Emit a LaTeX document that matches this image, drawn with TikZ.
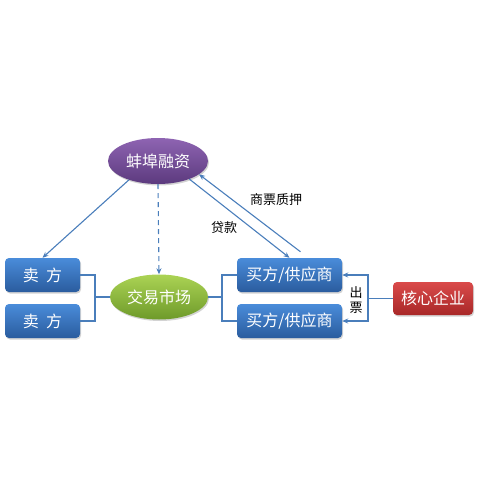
\documentclass[tikz,border=0pt]{standalone}
\usepackage{fontspec}
\setmainfont{Noto Sans CJK SC}
\usetikzlibrary{arrows.meta,shapes.geometric,shadows,calc}
\definecolor{lineblue}{HTML}{4A7EBB}
\definecolor{bluetop}{HTML}{4A8CDA}
\definecolor{bluebot}{HTML}{2A5C9E}
\definecolor{purtop}{HTML}{8E64B2}
\definecolor{purbot}{HTML}{5C3A7E}
\definecolor{grtop}{HTML}{ABD354}
\definecolor{grbot}{HTML}{6E9A2A}
\definecolor{redtop}{HTML}{DA4A4A}
\definecolor{redbot}{HTML}{A82828}
\tikzset{
  boxbase/.style={rounded corners=4pt, text=white, font=\fontsize{16}{16}\selectfont,
    drop shadow={shadow xshift=1pt, shadow yshift=-1.5pt, opacity=0.35}, inner sep=0pt},
  bluebox/.style={boxbase, rectangle, top color=bluetop, bottom color=bluebot, minimum height=34pt},
  redbox/.style={boxbase, rectangle, top color=redtop, bottom color=redbot, minimum width=80pt, minimum height=33pt},
  purell/.style={boxbase, ellipse, top color=purtop, bottom color=purbot, minimum width=100pt, minimum height=46pt},
  grell/.style={boxbase, ellipse, top color=grtop, bottom color=grbot, minimum width=98pt, minimum height=45pt},
  conn/.style={draw=lineblue, line width=1.1pt},
  arr/.style={conn, -{Stealth[length=6pt,width=5pt]}},
  lbl/.style={font=\fontsize{13}{15}\selectfont, text=black, inner sep=0pt}
}
\begin{document}
\begin{tikzpicture}[x=1pt,y=-1pt]
\useasboundingbox (0,0) rectangle (480,480);
\node[purell] (rz) at (158,161) {蚌埠融资};
\node[grell] (jy) at (159,297) {交易市场};
\node[bluebox, minimum width=75pt] (m1) at (42.5,275) {卖\hspace{0.45em}方};
\node[bluebox, minimum width=75pt] (m2) at (42.5,321) {卖\hspace{0.45em}方};
\node[bluebox, minimum width=105pt] (b1) at (289.5,275) {买方/供应商};
\node[bluebox, minimum width=105pt] (b2) at (289.5,321) {买方/供应商};
\node[redbox] (hx) at (433,298.5) {核心企业};
% junctions
\coordinate (lj) at (95,297);
\coordinate (rj) at (222,297);
\coordinate (hj) at (368,298.5);
\coordinate (pj) at ($(b1.north)+(11,-6)$);
% brackets
\draw[conn] (m1.east) -| (lj) |- (m2.east);
\draw[conn] (lj) -- (jy.west);
\draw[conn] (jy.east) -- (rj);
\draw[conn] (b1.west) -| (rj) |- (b2.west);
\draw[conn] (hx.west) -- (hj);
\draw[arr] (hj) |- (b1.east);
\draw[arr] (hj) |- (b2.east);
% finance arrows
\draw[arr] (rz.213) -- (m1.north);
\draw[arr, dashed, dash pattern=on 5pt off 4pt] (rz.south) -- (jy.north);
\draw[arr] (rz.-30) -- (b1.north);
\draw[arr] (pj) -- (rz.-18);
% labels
\node[lbl] (dk) at (224,228) {贷款};
\node[lbl] (sp) at (276,200) {商票质押};
\node[lbl, align=center] (cp) at (356,300) {出\\票};
\end{tikzpicture}
\end{document}
